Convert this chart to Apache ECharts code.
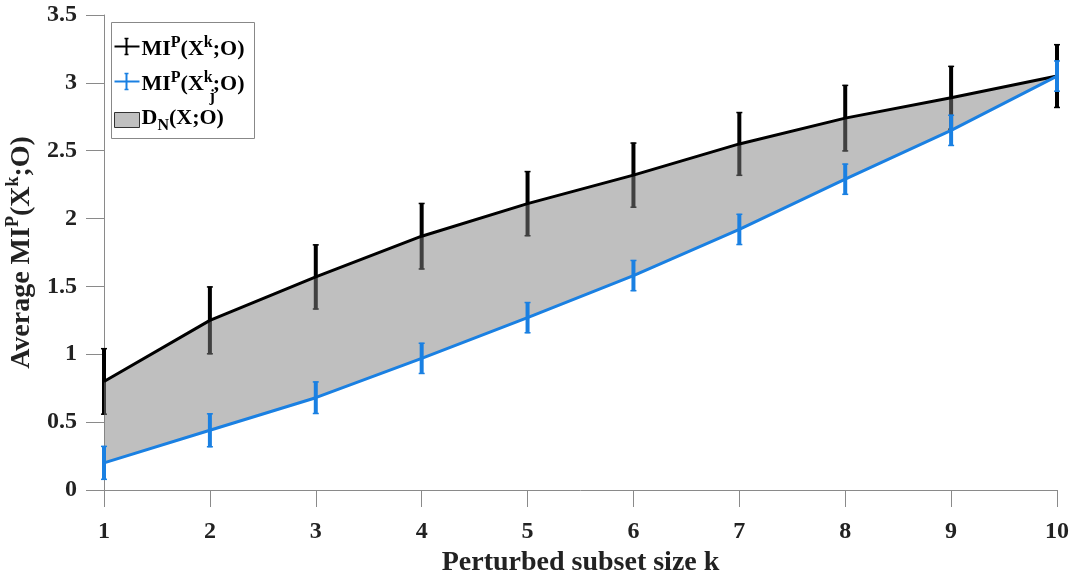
<!DOCTYPE html>
<html>
<head>
<meta charset="utf-8">
<script src="https://cdn.jsdelivr.net/npm/echarts@6/dist/echarts.min.js"></script>
<style>
  html, body { margin: 0; padding: 0; background: #fff; }
  #chart { width: 1073px; height: 578px; }
</style>
</head>
<body>
<div id="chart"></div>
<script>
// 数据
var kValues = [1, 2, 3, 4, 5, 6, 7, 8, 9, 10];
// MI^P(X^k;O) 平均值和误差
var miAll = [0.80, 1.25, 1.57, 1.87, 2.11, 2.32, 2.55, 2.74, 2.89, 3.05];
var miAllErr = [0.245, 0.25, 0.24, 0.245, 0.24, 0.24, 0.235, 0.245, 0.235, 0.235];
// MI^P(X_j^k;O) 平均值和误差
var miSub = [0.20, 0.44, 0.68, 0.97, 1.27, 1.58, 1.92, 2.29, 2.65, 3.05];
var miSubErr = [0.125, 0.125, 0.12, 0.115, 0.115, 0.115, 0.115, 0.115, 0.115, 0.115];
var yTicks = [0, 0.5, 1, 1.5, 2, 2.5, 3, 3.5];

var FONT = "Liberation Serif";
var BLUE = "#1a80e2";
var AXIS_COLOR = "#8a8a8a";
var TEXT_COLOR = "#222";

//误差线
function errorBarRender(color) {
  return function(params, api) {
    var idx = api.value(0);
    var lo = api.coord([idx, api.value(1)]);
    var hi = api.coord([idx, api.value(2)]);
    return {
      type: "group",
      children: [
        { type: "line", shape: { x1: lo[0], y1: lo[1], x2: hi[0], y2: hi[1] }, style: { stroke: color, lineWidth: 4 } },
        { type: "line", shape: { x1: hi[0] - 3, y1: hi[1] + 0.5, x2: hi[0] + 3, y2: hi[1] + 0.5 }, style: { stroke: color, lineWidth: 1.5 } },
        { type: "line", shape: { x1: lo[0] - 3, y1: lo[1] - 0.5, x2: lo[0] + 3, y2: lo[1] - 0.5 }, style: { stroke: color, lineWidth: 1.5 } }
      ]
    };
  };
}

var allBars = kValues.map(function(k, i) { return [i, miAll[i] - miAllErr[i], miAll[i] + miAllErr[i]]; });
var subBars = kValues.map(function(k, i) { return [i, miSub[i] - miSubErr[i], miSub[i] + miSubErr[i]]; });
var bandDiff = kValues.map(function(k, i) { return +(miAll[i] - miSub[i]).toFixed(4); });

var mainFont = "bold 22px " + FONT;
var supFont = "bold 16px " + FONT;

var charts = echarts.init(document.getElementById("chart"));
var option = {
  animation: false,
  backgroundColor: "#fff",
  grid: { left: 104, right: 16, top: 15, bottom: 88, containLabel: false, outerBoundsMode: "none" },
  xAxis: {
    type: "category",
    data: kValues,
    boundaryGap: false,
    name: "Perturbed subset size k",
    nameLocation: "middle",
    nameGap: 57,
    nameTextStyle: { fontFamily: FONT, fontWeight: "bold", fontSize: 28, color: TEXT_COLOR },
    axisLine: { lineStyle: { color: AXIS_COLOR, width: 1 } },
    axisTick: { show: true, length: 17, lineStyle: { color: AXIS_COLOR } },
    axisLabel: { margin: 30, fontFamily: FONT, fontWeight: "bold", fontSize: 24, color: TEXT_COLOR },
    splitLine: { show: false }
  },
  yAxis: {
    type: "value",
    min: yTicks[0],
    max: yTicks[yTicks.length - 1],
    interval: 0.5,
    name: "{m|Average MI}{s|P}{m|(X}{s|k}{m|;O)}",
    nameLocation: "middle",
    nameGap: 60,
    nameTextStyle: {
      color: TEXT_COLOR,
      rich: {
        m: { fontFamily: FONT, fontWeight: "bold", fontSize: 28, color: TEXT_COLOR, lineHeight: 36 },
        s: { fontFamily: FONT, fontWeight: "bold", fontSize: 18, color: TEXT_COLOR, verticalAlign: "top", lineHeight: 18 }
      }
    },
    axisLine: { show: true, lineStyle: { color: AXIS_COLOR, width: 1 } },
    axisTick: { show: true, length: 18, lineStyle: { color: AXIS_COLOR } },
    axisLabel: { margin: 27, fontFamily: FONT, fontWeight: "bold", fontSize: 24, color: TEXT_COLOR },
    splitLine: { show: false }
  },
  series: [
    {
      name: "errAll",
      type: "custom",
      renderItem: errorBarRender("#000"),
      data: allBars,
      encode: { x: 0, y: [1, 2] },
      clip: false,
      z: 1
    },
    {
      name: "bandBase",
      type: "line",
      data: miSub,
      stack: "band",
      symbol: "none",
      silent: true,
      lineStyle: { opacity: 0 },
      z: 2
    },
    {
      name: "D_N(X;O)",
      type: "line",
      data: bandDiff,
      stack: "band",
      symbol: "none",
      silent: true,
      lineStyle: { opacity: 0 },
      areaStyle: { color: "rgba(128,128,128,0.5)", opacity: 1 },
      z: 2
    },
    {
      name: "MI^P(X^k;O)",
      type: "line",
      data: miAll,
      symbol: "none",
      lineStyle: { color: "#000", width: 3 },
      z: 4
    },
    {
      name: "errSub",
      type: "custom",
      renderItem: errorBarRender(BLUE),
      data: subBars,
      encode: { x: 0, y: [1, 2] },
      clip: false,
      z: 5
    },
    {
      name: "MI^P(X_j^k;O)",
      type: "line",
      data: miSub,
      symbol: "none",
      lineStyle: { color: BLUE, width: 3 },
      z: 6
    }
  ],
  //图例
  graphic: [
    {
      type: "group",
      left: 111,
      top: 22,
      z: 100,
      children: [
        { type: "rect", shape: { x: 0, y: 0, width: 143, height: 116 }, style: { fill: "#fff", stroke: "#888", lineWidth: 1 } },
        // row 1
        { type: "line", shape: { x1: 3, y1: 24, x2: 28, y2: 24 }, style: { stroke: "#000", lineWidth: 2 } },
        { type: "line", shape: { x1: 15, y1: 16, x2: 15, y2: 32 }, style: { stroke: "#000", lineWidth: 2 } },
        { type: "line", shape: { x1: 13, y1: 16, x2: 17, y2: 16 }, style: { stroke: "#000", lineWidth: 1.5 } },
        { type: "line", shape: { x1: 13, y1: 32, x2: 17, y2: 32 }, style: { stroke: "#000", lineWidth: 1.5 } },
        {
          type: "text", x: 30, y: 27,
          style: {
            text: "{m|MI}{s|P}{m|(X}{s|k}{m|;O)}",
            verticalAlign: "middle",
            fill: TEXT_COLOR,
            rich: {
              m: { font: mainFont, fill: "#000", lineHeight: 30 },
              s: { font: supFont, fill: "#000", verticalAlign: "top", lineHeight: 16 }
            }
          }
        },
        // row 2
        { type: "line", shape: { x1: 3, y1: 59, x2: 28, y2: 59 }, style: { stroke: BLUE, lineWidth: 2 } },
        { type: "line", shape: { x1: 15, y1: 51, x2: 15, y2: 67 }, style: { stroke: BLUE, lineWidth: 2 } },
        { type: "line", shape: { x1: 13, y1: 51, x2: 17, y2: 51 }, style: { stroke: BLUE, lineWidth: 1.5 } },
        { type: "line", shape: { x1: 13, y1: 67, x2: 17, y2: 67 }, style: { stroke: BLUE, lineWidth: 1.5 } },
        {
          type: "text", x: 30, y: 62,
          style: {
            text: "{m|MI}{s|P}{m|(X}{s|k}{m|;O)}",
            verticalAlign: "middle",
            fill: TEXT_COLOR,
            rich: {
              m: { font: mainFont, fill: "#000", lineHeight: 30 },
              s: { font: supFont, fill: "#000", verticalAlign: "top", lineHeight: 16 }
            }
          }
        },
        { type: "text", x: 98, y: 74, style: { text: "j", font: supFont, fill: "#000", verticalAlign: "middle" } },
        // row 3
        { type: "rect", shape: { x: 3, y: 90, width: 25, height: 15 }, style: { fill: "#c0c0c0", stroke: "#333", lineWidth: 1 } },
        {
          type: "text", x: 30, y: 96,
          style: {
            text: "{m|D}{s|N}{m|(X;O)}",
            verticalAlign: "middle",
            fill: TEXT_COLOR,
            rich: {
              m: { font: mainFont, fill: "#000", lineHeight: 30 },
              s: { font: supFont, fill: "#000", verticalAlign: "bottom", lineHeight: 16 }
            }
          }
        }
      ]
    }
  ]
};
charts.setOption(option);
window.addEventListener("resize", function() {
  charts.resize();
});
</script>
</body>
</html>
